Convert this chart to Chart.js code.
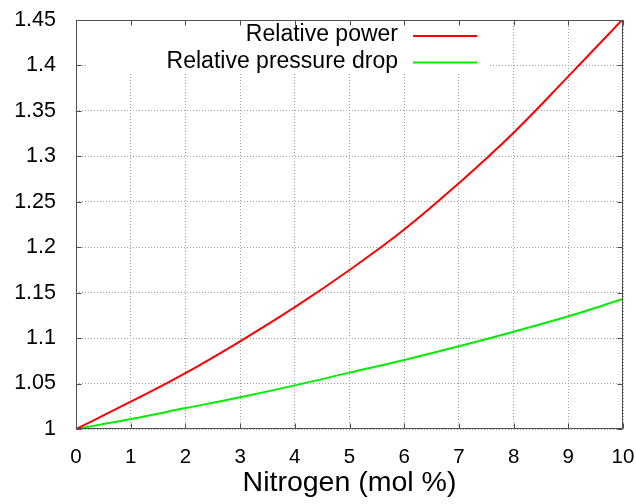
<!DOCTYPE html>
<html><head><meta charset="utf-8">
<script src="https://cdn.jsdelivr.net/npm/chart.js@4/dist/chart.umd.min.js"></script>
<style>html,body{margin:0;padding:0;background:#fff;}#wrap{width:636px;height:504px;}</style>
</head><body><div id="wrap"><canvas id="c" width="636" height="504"></canvas></div>
<script>
const nitrogen = [0,1,2,3,4,5,6,7,8,9,10];
const relativePower = [1.000,1.030,1.0615,1.0965,1.134,1.175,1.2195,1.2705,1.326,1.388,1.451];
const relativePressureDrop = [1.000,1.011,1.023,1.035,1.048,1.062,1.076,1.091,1.107,1.124,1.143];
const seriesNames = ['Relative power','Relative pressure drop'];
const xTickLabels = ['0','1','2','3','4','5','6','7','8','9','10'];
const yTickLabels = ['1','1.05','1.1','1.15','1.2','1.25','1.3','1.35','1.4','1.45'];
const xTitle = 'Nitrogen (mol %)';

const FONT = 'Liberation Sans, Arial, sans-serif';

const gnuplotPlugin = {
  id:'gnuplot',
  beforeDatasetsDraw(chart){
    const ctx=chart.ctx, a=chart.chartArea;
    ctx.save();
    ctx.fillStyle='#fff';
    ctx.fillRect(88, a.top+1, 402, 53);
    ctx.restore();
  },
  afterDatasetsDraw(chart){
    const ctx=chart.ctx, a=chart.chartArea;
    const xs=chart.scales.x, ys=chart.scales.y;
    ctx.save();
    ctx.strokeStyle='#505050';
    ctx.lineWidth=1;
    const L=Math.round(a.left)+0.5, R=Math.round(a.right)-0.5, T=Math.round(a.top)+0.5, B=Math.round(a.bottom)-0.5;
    ctx.beginPath();
    ctx.rect(L,T,R-L,B-T);
    xs.ticks.forEach(t=>{
      const x=Math.round(xs.getPixelForValue(t.value))+0.5;
      ctx.moveTo(x,B); ctx.lineTo(x,B-5);
      ctx.moveTo(x,T); ctx.lineTo(x,T+5);
    });
    ys.ticks.forEach(t=>{
      const y=Math.round(ys.getPixelForValue(t.value))+0.5;
      ctx.moveTo(L,y); ctx.lineTo(L+5,y);
      ctx.moveTo(R,y); ctx.lineTo(R-5,y);
    });
    ctx.stroke();
    // key
    ctx.font='23px '+FONT;
    ctx.fillStyle='#000';
    ctx.textAlign='right';
    ctx.textBaseline='alphabetic';
    chart.data.datasets.forEach((ds,i)=>{
      const y=a.top+21+i*26.5;
      ctx.fillText(ds.label, 398, y);
      ctx.strokeStyle=ds.borderColor;
      ctx.lineWidth=2;
      ctx.beginPath();
      ctx.moveTo(413,y-5); ctx.lineTo(477,y-5);
      ctx.stroke();
    });
    ctx.restore();
  }
};

new Chart(document.getElementById('c'),{
  type:'line',
  data:{
    datasets:[
      {label:seriesNames[0], data:nitrogen.map((x,i)=>({x:x,y:relativePower[i]})), borderColor:'#ff0000', borderWidth:2, pointRadius:0, tension:0.4, fill:false},
      {label:seriesNames[1], data:nitrogen.map((x,i)=>({x:x,y:relativePressureDrop[i]})), borderColor:'#00ee00', borderWidth:2, pointRadius:0, tension:0.4, fill:false}
    ]
  },
  options:{
    responsive:false, animation:false, devicePixelRatio:1,
    layout:{padding:{left:0,right:13,top:20,bottom:0}},
    plugins:{legend:{display:false}, tooltip:{enabled:false}},
    scales:{
      x:{type:'linear', min:0, max:10,
        ticks:{stepSize:1, color:'#000', font:{family:FONT,size:20.5}, padding:16, maxRotation:0,
          callback:(v,i)=>xTickLabels[i]},
        grid:{color:'#a0a0a0', lineWidth:1, drawTicks:false},
        border:{display:false, dash:[1,2]},
        title:{display:true, text:xTitle, color:'#000', font:{family:FONT,size:28.5}, padding:{top:0,bottom:4}},
        afterFit(s){s.height=75; s.paddingLeft=0; s.paddingRight=0;}
      },
      y:{type:'linear', min:1, max:1.45,
        ticks:{stepSize:0.05, color:'#000', font:{family:FONT,size:21.5}, padding:20,
          callback:(v,i)=>yTickLabels[i]},
        grid:{color:'#a0a0a0', lineWidth:1, drawTicks:false},
        border:{display:false, dash:[1,2]},
        afterFit(s){s.width=76; s.paddingTop=0; s.paddingBottom=0;}
      }
    }
  },
  plugins:[gnuplotPlugin]
});
</script></body></html>
